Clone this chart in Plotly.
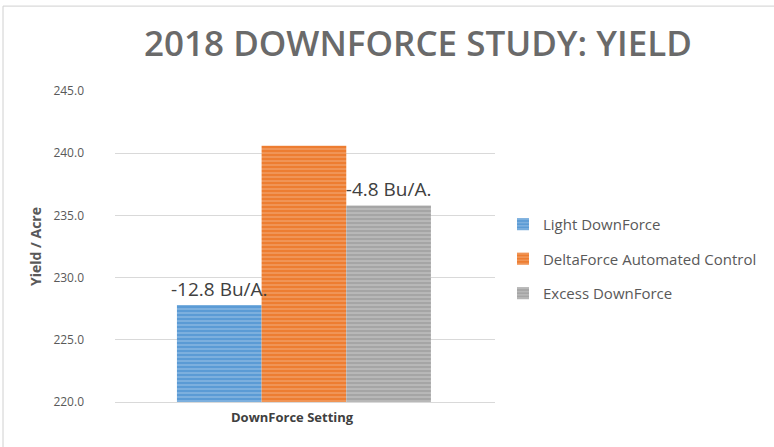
import plotly.graph_objects as go

categories = ["DownForce Setting"]
series_names = ["Light DownForce", "DeltaForce Automated Control", "Excess DownForce"]
series_values = [227.8, 240.6, 235.8]
series_labels = ["-12.8 Bu/A.", "", "-4.8 Bu/A."]
colors = ["#5B9BD5", "#ED7D31", "#A5A5A5"]
stripe_colors = ["#C9DFF2", "#F8CBAD", "#E2E2E2"]
y_ticks = [220, 225, 230, 235, 240, 245]

# bar geometry within the single category (category spans -0.5..0.5)
bar_w = 0.2228
group_start = -0.337
offsets = [group_start + i * bar_w for i in range(len(series_names))]

fig = go.Figure()
for name, val, c, sc, off in zip(series_names, series_values, colors, stripe_colors, offsets):
    fig.add_trace(go.Bar(
        x=categories, y=[val], name=name, offset=off, width=bar_w,
        marker=dict(color=c, line=dict(width=0),
                    pattern=dict(shape="-", fgcolor=sc, bgcolor=c, size=4, solidity=0.3)),
    ))
# data labels drawn on top of all bars
for val, lab, off in zip(series_values, series_labels, offsets):
    fig.add_trace(go.Bar(
        x=categories, y=[val], offset=off, width=bar_w, showlegend=False, hoverinfo="skip",
        marker=dict(color="rgba(0,0,0,0)", line=dict(width=0)),
        text=[lab], textposition="outside", cliponaxis=False, constraintext="none",
        textfont=dict(size=19, color="#404040", family="Open Sans"),
    ))

fig.update_layout(
    width=774, height=447,
    barmode="overlay",
    paper_bgcolor="white", plot_bgcolor="white",
    margin=dict(l=115, r=279, t=91, b=45),
    title=dict(text="2018 DOWNFORCE STUDY: YIELD", x=0.54, xref="container", xanchor="center", y=0.902, yanchor="middle",
               font=dict(size=35, color="#6a6a6a", family="Open Sans", weight=600)),
    font=dict(family="Open Sans", color="#595959"),
    yaxis=dict(range=[220, 245], tickvals=y_ticks, ticktext=[f"{t:.1f}" for t in y_ticks],
               showgrid=True, gridcolor="#D9D9D9", gridwidth=1, zeroline=False,
               tickfont=dict(size=12, color="#595959"), ticks="", ticklabelstandoff=30,
               title=dict(text="<b>Yield / Acre</b>", font=dict(size=14, color="#595959"), standoff=8)),
    xaxis=dict(showline=True, linecolor="#D9D9D9", showticklabels=False, range=[-0.5, 0.5]),
    legend=dict(x=1.021, y=0.46, xanchor="left", yanchor="middle", tracegroupgap=12,
                font=dict(size=15, color="#595959"), itemwidth=30),
    showlegend=True,
    annotations=[dict(text="<b>" + categories[0] + "</b>", xref="paper", yref="paper", x=0.468, y=-0.048,
                      xanchor="center", yanchor="middle", showarrow=False,
                      font=dict(size=13, color="#404040", family="Open Sans"))],
    shapes=[dict(type="rect", xref="paper", yref="paper", x0=-0.2947, x1=1.75, y0=-0.154, y1=1.273,
                 line=dict(color="#D0D0D0", width=1))],
)
for i in range(len(series_names)):
    fig.data[i].legendgroup = f"g{i}"

fig.write_html("out.html", config={"displayModeBar": False},
               post_script="document.body.style.margin='0';")
